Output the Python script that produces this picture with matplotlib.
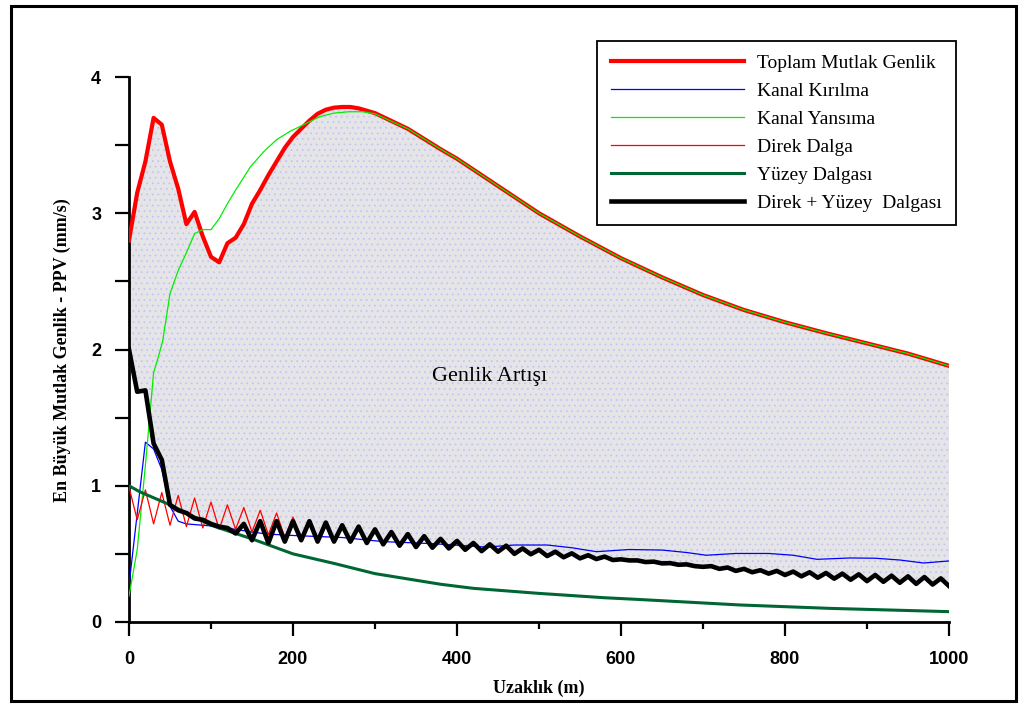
import numpy as np
import matplotlib
matplotlib.use("Agg")
import matplotlib.pyplot as plt
from matplotlib.ticker import MultipleLocator
from matplotlib.patches import Rectangle

# ---------------- data ----------------
toplam_x = [0, 10, 20, 30, 40, 50, 60, 70, 80, 90, 100, 110, 120, 130, 140, 150, 160, 170,
            180, 190, 200, 210, 220, 230, 240, 250, 260, 270, 280, 300, 340, 380, 400, 450,
            500, 550, 600, 650, 700, 750, 800, 850, 900, 950, 1000]
toplam_y = [2.80, 3.15, 3.38, 3.70, 3.65, 3.38, 3.18, 2.92, 3.01, 2.83, 2.68, 2.64, 2.78, 2.82,
            2.92, 3.07, 3.17, 3.28, 3.38, 3.48, 3.56, 3.62, 3.68, 3.73, 3.76, 3.775, 3.78, 3.78,
            3.77, 3.735, 3.62, 3.47, 3.40, 3.20, 3.00, 2.83, 2.67, 2.53, 2.40, 2.29, 2.20, 2.12,
            2.045, 1.97, 1.88]

kirilma_x = [0, 20, 30, 40, 50, 60, 70, 100, 130, 150, 170, 200, 260, 310, 370, 435, 470, 510,
             540, 570, 610, 650, 680, 704, 740, 780, 810, 839, 880, 910, 940, 969, 1000]
kirilma_y = [0.27, 1.32, 1.27, 1.12, 0.85, 0.74, 0.72, 0.705, 0.68, 0.66, 0.645, 0.635, 0.62,
             0.59, 0.575, 0.55, 0.565, 0.565, 0.545, 0.516, 0.532, 0.528, 0.51, 0.49, 0.503,
             0.503, 0.49, 0.46, 0.47, 0.468, 0.455, 0.433, 0.448]

yansima_x = [0, 10, 20, 30, 36, 41, 50, 60, 70, 80, 90, 100, 110, 120, 130, 148, 164, 180, 196,
             213, 233, 250, 268, 285, 300, 340, 380, 400, 450, 500, 550, 600, 650, 700, 750,
             800, 850, 900, 950, 1000]
yansima_y = [0.19, 0.53, 1.15, 1.83, 1.95, 2.06, 2.41, 2.58, 2.71, 2.85, 2.88, 2.88, 2.96, 3.07,
             3.17, 3.34, 3.45, 3.54, 3.60, 3.65, 3.71, 3.735, 3.745, 3.745, 3.73, 3.62, 3.47,
             3.40, 3.20, 3.00, 2.83, 2.67, 2.53, 2.40, 2.29, 2.20, 2.12, 2.045, 1.97, 1.88]

direk_x = [0, 10, 20, 30, 40, 50, 60, 70, 80, 90, 100, 110, 120, 130, 140, 150, 160, 170, 180,
           190, 200, 210, 220, 230, 240, 250, 260]
direk_y = [0.99, 0.75, 0.97, 0.72, 0.95, 0.71, 0.93, 0.70, 0.91, 0.69, 0.88, 0.68, 0.86, 0.68,
           0.84, 0.66, 0.82, 0.64, 0.80, 0.62, 0.77, 0.61, 0.75, 0.60, 0.73, 0.59, 0.71]

yuzey_x = [0, 13, 50, 100, 150, 200, 250, 300, 380, 420, 500, 580, 620, 745, 855, 1000]
yuzey_y = [1.0, 0.956, 0.86, 0.71, 0.61, 0.50, 0.43, 0.355, 0.277, 0.247, 0.21, 0.178, 0.166,
           0.125, 0.10, 0.076]

toplam2_x = list(range(0, 1001, 10))
toplam2_y = [2.00, 1.69, 1.70, 1.31, 1.19, 0.86, 0.82, 0.80, 0.76, 0.75,
             0.72, 0.70, 0.69, 0.65, 0.72, 0.60, 0.74, 0.58, 0.74, 0.59,
             0.74, 0.60, 0.74, 0.59, 0.73, 0.59, 0.71, 0.59, 0.70, 0.58,
             0.68, 0.57, 0.66, 0.56, 0.645, 0.55, 0.63, 0.545, 0.61, 0.54,
             0.595, 0.53, 0.58, 0.52, 0.57, 0.516, 0.56, 0.50, 0.54, 0.497,
             0.53, 0.484, 0.516, 0.475, 0.504, 0.467, 0.49, 0.462, 0.48, 0.455,
             0.46, 0.452, 0.452, 0.44, 0.443, 0.43, 0.432, 0.42, 0.423, 0.41,
             0.405, 0.41, 0.39, 0.40, 0.375, 0.39, 0.365, 0.38, 0.355, 0.375,
             0.345, 0.37, 0.335, 0.365, 0.325, 0.36, 0.318, 0.355, 0.31, 0.35,
             0.30, 0.345, 0.295, 0.34, 0.288, 0.335, 0.28, 0.33, 0.275, 0.32,
             0.264]

labels = ["Toplam Mutlak Genlik", "Kanal Kırılma", "Kanal Yansıma", "Direk Dalga",
          "Yüzey Dalgası", "Direk + Yüzey  Dalgası"]
x_ticks = [0, 200, 400, 600, 800, 1000]
y_ticks = [0, 1, 2, 3, 4]

# ---------------- plot ----------------
plt.rcParams['hatch.linewidth'] = 0.6
fig = plt.figure(figsize=(10.21, 7.04), dpi=100)
ax = fig.add_axes([129 / 1021, 82 / 704, (949 - 129) / 1021, (622 - 77) / 704])

upper = np.interp(toplam2_x, toplam_x, toplam_y)
ax.fill_between(toplam2_x, toplam2_y, upper, facecolor='#e5e5e7', edgecolor='#c4c4f6',
                hatch='...', linewidth=0, zorder=1)

ax.plot(toplam_x, toplam_y, color='#ff0000', lw=3.0, label=labels[0], zorder=3)
ax.plot(kirilma_x, kirilma_y, color='#0000ff', lw=0.9, label=labels[1], zorder=4)
ax.plot(yansima_x, yansima_y, color='#00ee00', lw=0.9, label=labels[2], zorder=5)
ax.plot(direk_x, direk_y, color='#ff0000', lw=0.9, label=labels[3], zorder=6)
ax.plot(yuzey_x, yuzey_y, color='#006633', lw=2.2, label=labels[4], zorder=7)
ax.plot(toplam2_x, toplam2_y, color='#000000', lw=3.3, label=labels[5], zorder=8)

ax.set_xlim(0, 1000)
ax.set_ylim(0, 4)
ax.set_xticks(x_ticks)
ax.set_yticks(y_ticks)
ax.xaxis.set_minor_locator(MultipleLocator(100))
ax.yaxis.set_minor_locator(MultipleLocator(0.5))
for s in ['top', 'right']:
    ax.spines[s].set_visible(False)
for s in ['left', 'bottom']:
    ax.spines[s].set_linewidth(2)
ax.tick_params(axis='x', which='major', length=10, width=1.6, pad=11)
ax.tick_params(axis='x', which='minor', length=5, width=1.6)
ax.tick_params(axis='y', which='both', length=10, width=1.6, pad=10)
for lab in ax.get_xticklabels() + ax.get_yticklabels():
    lab.set_fontfamily('Liberation Sans')
    lab.set_fontweight('bold')
    lab.set_fontsize(13)

fig.text(539 / 1021, 1 - 688 / 704, "Uzaklık (m)", family='Liberation Serif', weight='bold',
         fontsize=13, ha='center', va='center')
fig.text(62 / 1021, 1 - 350 / 704, "En Büyük Mutlak Genlik - PPV (mm/s)",
         family='Liberation Serif', weight='bold', fontsize=13, rotation=90,
         ha='center', va='center')

ax.text(440, 1.80, "Genlik Artışı", family='Liberation Serif', fontsize=16,
        ha='center', va='center', zorder=9)

leg = ax.legend(loc='upper left', bbox_to_anchor=(597 / 1021, 1 - 41 / 704),
                bbox_transform=fig.transFigure, borderaxespad=0,
                prop={'family': 'Liberation Serif', 'size': 14},
                handlelength=6.85, handletextpad=0.7, labelspacing=0.53,
                borderpad=0.7, fancybox=False, framealpha=1, edgecolor='black')
leg.get_frame().set_linewidth(1.3)
leg.set_zorder(10)

fig.add_artist(Rectangle((11 / 1021, 3 / 704), (1016 - 11) / 1021, (701 - 6) / 704,
                         transform=fig.transFigure, fill=False, lw=2.2, edgecolor='black'))

fig.savefig('out.png', dpi=100)
